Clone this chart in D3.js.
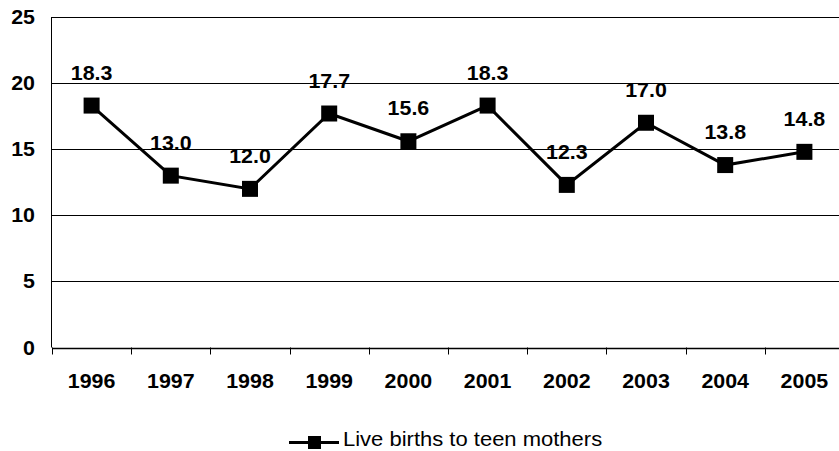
<!DOCTYPE html>
<html>
<head>
<meta charset="utf-8">
<script src="https://cdn.jsdelivr.net/npm/d3@7"></script>
<style>
  body { margin: 0; background: #fff; }
  svg text { font-family: "Liberation Sans", Arial, sans-serif; }
</style>
</head>
<body>
<div id="chart"></div>
<script>
// chart values
var years = ["1996", "1997", "1998", "1999", "2000", "2001", "2002", "2003", "2004", "2005"];
var births = [18.3, 13.0, 12.0, 17.7, 15.6, 18.3, 12.3, 17.0, 13.8, 14.8];
var yTicks = [0, 5, 10, 15, 20, 25];
var seriesName = "Live births to teen mothers";

var width = 839, height = 451;
var stretch = 1.07; // text in the reference is a bit wide

var svg = d3.select("#chart").append("svg")
  .attr("width", width)
  .attr("height", height);

var x = d3.scaleBand().domain(years).range([52, 844]).padding(0);
var y = d3.scaleLinear().domain([0, 25]).range([347.5, 17]);

// gridlines
svg.append("g")
  .selectAll("line")
  .data(yTicks.filter(function (d) { return d > 0; }))
  .enter().append("line")
  .attr("x1", 52).attr("x2", 844)
  .attr("y1", function (d) { return Math.round(y(d)) + 0.5; })
  .attr("y2", function (d) { return Math.round(y(d)) + 0.5; })
  .attr("stroke", "#000")
  .attr("stroke-width", 1);

// y axis line and labels
svg.append("line")
  .attr("x1", 51.5).attr("x2", 51.5)
  .attr("y1", y(25)).attr("y2", y(0))
  .attr("stroke", "#000");

svg.append("g")
  .selectAll("text")
  .data(yTicks)
  .enter().append("text")
  .attr("transform", function (d) { return "translate(35," + (y(d) + 7) + ") scale(" + stretch + ",1)"; })
  .attr("text-anchor", "end")
  .style("font-size", "20px")
  .style("font-weight", "bold")
  .text(function (d) { return d; });

// x axis line, ticks and labels
svg.append("line")
  .attr("x1", 52).attr("x2", 844)
  .attr("y1", Math.round(y(0)) + 0.5).attr("y2", Math.round(y(0)) + 0.5)
  .attr("stroke", "#000")
  .attr("stroke-width", 1.5);

svg.append("g")
  .selectAll("line")
  .data(years)
  .enter().append("line")
  .attr("x1", function (d) { return Math.round(x(d)) + 0.5; })
  .attr("x2", function (d) { return Math.round(x(d)) + 0.5; })
  .attr("y1", y(0)).attr("y2", y(0) + 7)
  .attr("stroke", "#000");

svg.append("g")
  .selectAll("text")
  .data(years)
  .enter().append("text")
  .attr("transform", function (d) { return "translate(" + (x(d) + x.bandwidth() / 2) + ",388) scale(" + stretch + ",1)"; })
  .attr("text-anchor", "middle")
  .style("font-size", "20px")
  .style("font-weight", "bold")
  .text(function (d) { return d; });

// series line
var line = d3.line()
  .x(function (d, i) { return x(years[i]) + x.bandwidth() / 2; })
  .y(function (d) { return y(d); });

svg.append("path")
  .datum(births)
  .attr("d", line)
  .attr("fill", "none")
  .attr("stroke", "#000")
  .attr("stroke-width", 3);

var ms = 16;
svg.append("g")
  .selectAll("rect")
  .data(births)
  .enter().append("rect")
  .attr("x", function (d, i) { return x(years[i]) + x.bandwidth() / 2 - ms / 2; })
  .attr("y", function (d) { return y(d) - ms / 2; })
  .attr("width", ms).attr("height", ms)
  .attr("fill", "#000");

// data labels
svg.append("g")
  .selectAll("text")
  .data(births)
  .enter().append("text")
  .attr("transform", function (d, i) {
    return "translate(" + (x(years[i]) + x.bandwidth() / 2) + "," + (y(d) - 26) + ") scale(" + stretch + ",1)";
  })
  .attr("text-anchor", "middle")
  .style("font-size", "20px")
  .style("font-weight", "bold")
  .text(function (d) { return d.toFixed(1); });

// legend
var lg = svg.append("g");
lg.append("line")
  .attr("x1", 289).attr("x2", 339)
  .attr("y1", 442.5).attr("y2", 442.5)
  .attr("stroke", "#000").attr("stroke-width", 3);
lg.append("rect")
  .attr("x", 308).attr("y", 436).attr("width", 13).attr("height", 13)
  .attr("fill", "#000");
lg.append("text")
  .attr("transform", "translate(343,446) scale(1.1,1)")
  .style("font-size", "20px")
  .text(seriesName);
</script>
</body>
</html>
